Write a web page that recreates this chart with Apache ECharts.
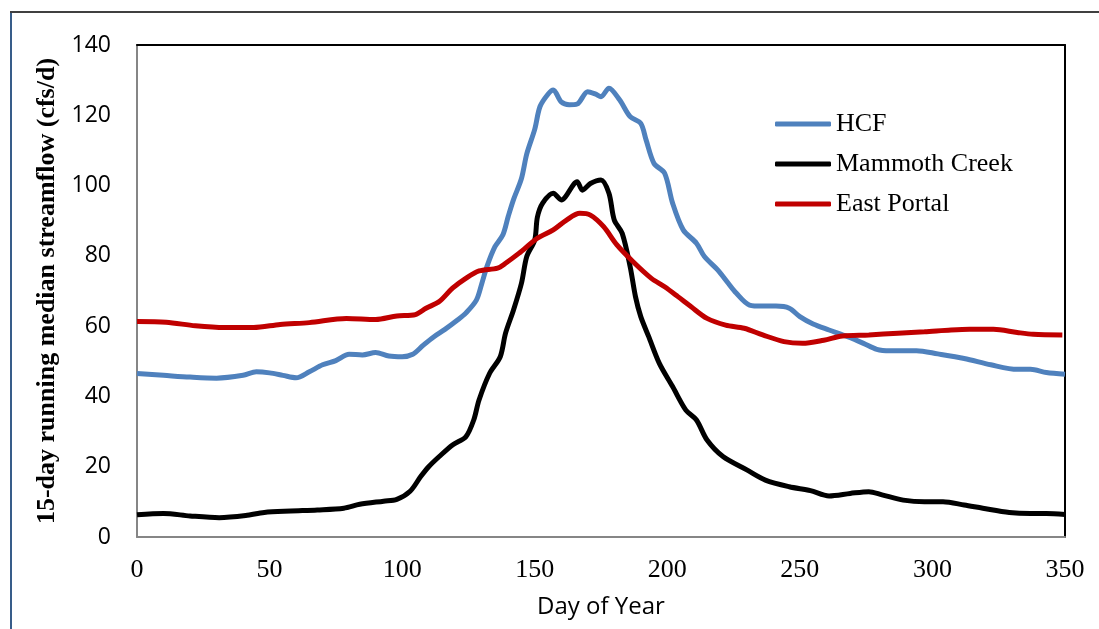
<!DOCTYPE html>
<html>
<head>
<meta charset="utf-8">
<script src="https://cdn.jsdelivr.net/npm/echarts@6/dist/echarts.min.js"></script>
<style>
  html, body { margin: 0; padding: 0; background: #fff; }
  #main { width: 1099px; height: 629px; }
</style>
</head>
<body>
<div id="main"></div>
<script>
// values (day of year, 15-day running median in cfs/d)
var hcfDays = [0, 10, 20, 30, 40, 45, 50, 55, 60, 65, 70, 75, 80, 85, 90, 95, 100, 104, 108, 112, 116, 121, 124, 128, 130, 132, 135, 138, 140, 142, 145, 147, 150, 152, 155, 157, 160, 163, 166, 170, 173, 175, 178, 182, 186, 190, 192, 195, 199, 202, 206, 211, 214, 219, 223, 226, 231, 236, 241, 246, 250, 255, 261, 268, 274, 279, 284, 294, 302, 312, 322, 332, 337, 343, 350];
var hcfFlow = [46.5, 46, 45.5, 45.2, 46, 47, 46.7, 46, 45.3, 47, 49, 50.2, 52, 51.8, 52.5, 51.5, 51.3, 52, 54.6, 57, 59, 61.8, 63.7, 67.4, 72, 77, 82.6, 86, 91.2, 96, 102, 109, 116, 122.5, 126, 127.2, 123.8, 123, 123.2, 126.7, 126, 125.3, 127.7, 124.4, 119.6, 117.7, 113, 106.3, 103.5, 95, 87.4, 83.6, 79.8, 76, 72.2, 69.4, 66, 65.7, 65.7, 65.1, 62.7, 60.6, 58.9, 57, 55.1, 53.4, 53, 53, 52.1, 50.8, 49, 47.7, 47.7, 46.8, 46.3];

var mamDays = [0, 10, 20, 31, 41, 48, 58, 68, 78, 84, 93, 98, 103, 107, 110, 114, 119, 124, 127, 129, 133, 137, 139, 142, 145, 147, 150, 151, 153, 157, 160, 166, 168, 171, 175, 178, 180, 183, 186, 188, 190, 193, 197, 202, 207, 211, 215, 221, 230, 237, 246, 254, 261, 269, 276, 281, 289, 297, 304, 312, 319, 329, 337, 343, 350];
var mamFlow = [6.3, 6.7, 6, 5.5, 6.1, 7, 7.4, 7.7, 8.2, 9.3, 10.2, 10.7, 13, 17.2, 20, 22.9, 26.2, 28.5, 33.3, 39, 46.6, 51.3, 58, 64.6, 72.2, 79.8, 84.5, 91, 95, 97.8, 95.9, 101.1, 98.7, 100.6, 101.6, 97.8, 90.2, 86.4, 76.9, 68.4, 62.7, 57, 49.4, 42.8, 36.1, 33.3, 27.6, 22.9, 19.1, 16.2, 14.3, 13.2, 11.7, 12.4, 12.9, 12, 10.5, 10, 10, 9.1, 8.2, 7, 6.7, 6.7, 6.4];

var epDays = [0, 11, 22, 33, 44, 54, 65, 79, 90, 98, 105, 109, 114, 119, 124, 129, 136, 139, 144, 151, 157, 162, 167, 171, 176, 181, 187, 194, 199, 204, 209, 215, 222, 229, 236, 244, 251, 259, 266, 276, 287, 297, 307, 314, 323, 332, 338, 349];
var epFlow = [61.3, 61.1, 60.1, 59.6, 59.6, 60.5, 61, 62.2, 61.9, 62.9, 63.3, 65.1, 67, 70.8, 73.6, 75.7, 76.5, 77.9, 80.7, 85, 87.4, 90.2, 92.1, 91.6, 88.3, 83.1, 78.4, 73.6, 71.2, 68.4, 65.5, 62.2, 60.3, 59.4, 57.5, 55.6, 55.1, 56, 57.2, 57.5, 58, 58.4, 58.9, 59.1, 59.1, 58.2, 57.7, 57.5];

var seriesNames = ['HCF', 'Mammoth Creek', 'East Portal'];
var seriesColors = ['#4f81bd', '#000000', '#c00000'];
var xTicks = [0, 350, 50];
var yTicks = [0, 140, 20];

function pairs(xs, ys) {
    var out = [];
    for (var i = 0; i < xs.length; i++) out.push([xs[i], ys[i]]);
    return out;
}

var myChart = echarts.init(document.getElementById('main'));

var seriesData = [pairs(hcfDays, hcfFlow), pairs(mamDays, mamFlow), pairs(epDays, epFlow)];

var option = {
    backgroundColor: '#fff',
    animation: false,
    grid: { left: 137, right: 34, top: 45, bottom: 92 },
    legend: {
        orient: 'vertical',
        left: 770,
        top: 106,
        itemWidth: 56,
        itemHeight: 5,
        itemGap: 14,
        icon: 'roundRect',
        data: seriesNames,
        textStyle: { fontFamily: 'Liberation Serif', fontSize: 26, color: '#000' }
    },
    xAxis: [{
        type: 'value',
        min: xTicks[0], max: xTicks[1], interval: xTicks[2],
        name: 'Day of Year',
        nameLocation: 'middle',
        nameGap: 58,
        nameTextStyle: { fontFamily: 'Open Sans', fontSize: 24, color: '#000' },
        axisLine: { show: true, lineStyle: { color: '#868686', width: 2 } },
        axisTick: { show: false },
        splitLine: { show: false },
        axisLabel: { fontFamily: 'Liberation Serif', fontSize: 26, color: '#000', margin: 20 }
    }, {
        type: 'value', position: 'top',
        min: xTicks[0], max: xTicks[1],
        axisLine: { show: true, onZero: false, lineStyle: { color: '#000', width: 2 } },
        axisTick: { show: false }, axisLabel: { show: false }, splitLine: { show: false }
    }],
    yAxis: [{
        type: 'value',
        min: yTicks[0], max: yTicks[1], interval: yTicks[2],
        name: '15-day running median streamflow (cfs/d)',
        nameLocation: 'middle',
        nameGap: 72,
        nameTextStyle: { fontFamily: 'Liberation Serif', fontWeight: 'bold', fontSize: 26, color: '#000' },
        axisLine: { show: true, lineStyle: { color: '#868686', width: 2 } },
        axisTick: { show: false },
        splitLine: { show: false },
        axisLabel: { fontFamily: 'Open Sans', fontSize: 23, color: '#000', margin: 26 }
    }, {
        type: 'value', position: 'right',
        min: yTicks[0], max: yTicks[1],
        axisLine: { show: true, onZero: false, lineStyle: { color: '#000', width: 2 } },
        axisTick: { show: false }, axisLabel: { show: false }, splitLine: { show: false }
    }],
    series: seriesNames.map(function (name, i) {
        return {
            name: name,
            type: 'line',
            data: seriesData[i],
            smooth: 0.3,
            showSymbol: false,
            symbol: 'none',
            color: seriesColors[i],
            lineStyle: { width: 5, color: seriesColors[i] }
        };
    }),
    graphic: [
        { type: 'line', shape: { x1: 11, y1: 12, x2: 11, y2: 629 }, style: { stroke: '#385d8a', lineWidth: 2 } },
        { type: 'line', shape: { x1: 10, y1: 12, x2: 1099, y2: 12 }, style: { stroke: '#404040', lineWidth: 2 } }
    ]
};

myChart.setOption(option);
</script>
</body>
</html>
